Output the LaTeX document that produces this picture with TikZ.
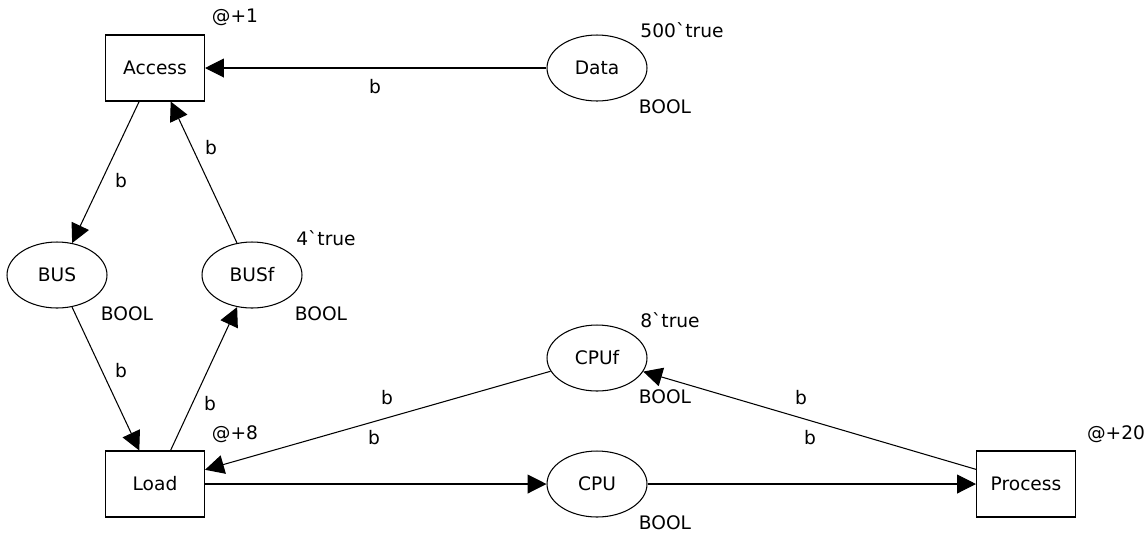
\documentclass[tikz,border=0pt]{standalone}
\usepackage{fontspec}
\setmainfont{DejaVu Sans}
\usetikzlibrary{arrows.meta,shapes.geometric}

\tikzset{
  trans/.style={draw,rectangle,line width=0.6pt,minimum width=1.98cm,minimum height=1.32cm,inner sep=0pt},
  place/.style={draw,ellipse,line width=0.6pt,minimum width=2cm,minimum height=1.32cm,inner sep=0pt},
  arc/.style={line width=0.6pt,-{Triangle[length=10.8pt,width=10.8pt]}},
  lbl/.style={inner sep=0pt}
}

\begin{document}
\begin{tikzpicture}[x=0.02cm,y=-0.02cm,font=\fontsize{10.6}{12}\selectfont]
	\useasboundingbox (0,0) rectangle (1148,532);
	% transitions
	\node[trans] (access) at (155,68) {Access};
	\node[trans] (load) at (155,484) {Load};
	\node[trans] (process) at (1026,484) {Process};
	% places
	\node[place] (data) at (597,68) {Data};
	\node[place] (bus) at (57,275) {BUS};
	\node[place] (busf) at (252,275) {BUSf};
	\node[place] (cpuf) at (597,358) {CPUf};
	\node[place] (cpu) at (597,484) {CPU};
	% inscriptions
	\node[lbl] (t1) at (235,17) {@+1};
	\node[lbl] (t8) at (235,434) {@+8};
	\node[lbl] (t20) at (1116,434) {@+20};
	\node[lbl] (idata) at (682,30) {500\textasciigrave true};
	\node[lbl] (ibusf) at (326,238) {4\textasciigrave true};
	\node[lbl] (icpuf) at (670,320) {8\textasciigrave true};
	\node[lbl] (cdata) at (665,107) {BOOL};
	\node[lbl] (cbus) at (127,314) {BOOL};
	\node[lbl] (cbusf) at (321,314) {BOOL};
	\node[lbl] (ccpuf) at (665,397) {BOOL};
	\node[lbl] (ccpu) at (665,523) {BOOL};
	% arcs
	\draw[arc] (data) -- (access);
	\draw[arc] (access) -- (bus);
	\draw[arc] (busf) -- (access);
	\draw[arc] (bus) -- (load);
	\draw[arc] (load) -- (busf);
	\draw[arc] (cpuf) -- (load);
	\draw[arc] (load) -- (cpu);
	\draw[arc] (cpu) -- (process);
	\draw[arc] (process) -- (cpuf);
	% arc labels
	\node[lbl] at (375,87) {b};
	\node[lbl] at (121,181) {b};
	\node[lbl] at (211,148) {b};
	\node[lbl] at (121,371) {b};
	\node[lbl] at (210,404) {b};
	\node[lbl] at (387,398) {b};
	\node[lbl] at (374,438) {b};
	\node[lbl] at (810,438) {b};
	\node[lbl] at (801,398) {b};
\end{tikzpicture}
\end{document}
